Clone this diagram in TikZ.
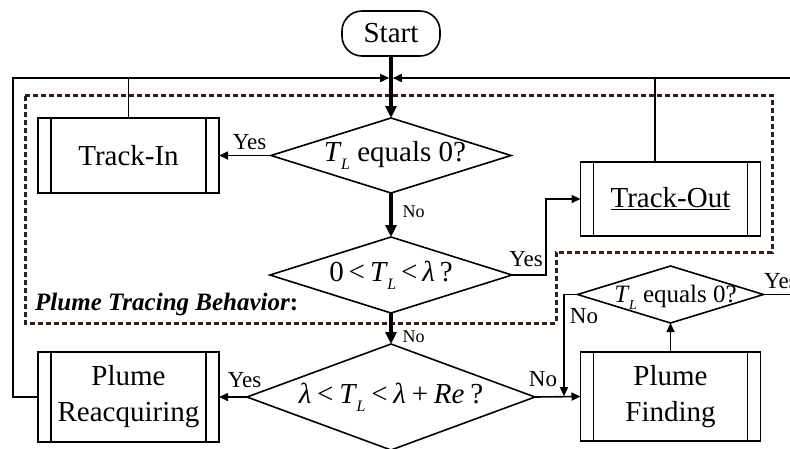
\documentclass[tikz,border=0pt]{standalone}
\usepackage{fontspec}
\setmainfont{Liberation Serif}
\usetikzlibrary{shapes.geometric,arrows.meta}
\definecolor{dotc}{RGB}{50,30,25}
\newcommand{\mainfs}{\fontsize{29}{36}\selectfont}
\newcommand{\TL}{\textit{T}\kern-0.02em\raisebox{-0.28em}{\scalebox{0.55}{\textit{L}}}}
\begin{document}
\begin{tikzpicture}[x=1pt,y=-1pt,font=\mainfs,
  dec/.style={diamond, draw, line width=1.6pt, inner sep=0pt, outer sep=0pt},
  subr/.style={rectangle, draw, line width=1.6pt, inner sep=0pt, outer sep=0pt, align=center,
    path picture={\draw[line width=1.6pt]
      ([xshift=13pt]path picture bounding box.north west) -- ([xshift=13pt]path picture bounding box.south west)
      ([xshift=-13pt]path picture bounding box.north east) -- ([xshift=-13pt]path picture bounding box.south east);}},
  term/.style={rectangle, rounded corners=20pt, draw, line width=1.6pt, inner sep=0pt, outer sep=0pt},
  arr/.style={line width=1.6pt, -{Triangle[length=9pt,width=8pt]}},
  thin/.style={line width=1.6pt},
  thk/.style={line width=3.5pt, -{Triangle[length=12pt,width=11pt]}},
  lab/.style={font=\fontsize{23}{26}\selectfont, inner sep=0pt, anchor=base},
  slab/.style={font=\fontsize{18}{20}\selectfont, inner sep=0pt, anchor=base},
  dotbox/.style={draw=dotc, line width=3pt, dash pattern=on 5pt off 3pt}
]
\clip (0,0) rectangle (790,448);

% dotted region
\draw[dotbox] (25,95) -- (772,95) -- (772,252) -- (556,252) -- (556,323) -- (25,323) -- cycle;
\node[anchor=base west, inner sep=0pt, font=\fontsize{25}{28}\selectfont\bfseries\itshape] (ptb) at (35,310) {Plume Tracing Behavior\upshape:};

% nodes
\node[term, minimum width=98pt, minimum height=45pt] (start) at (391,33.5) {Start};
\node[subr, minimum width=181pt, minimum height=75pt] (trackin) at (128.5,155.5) {Track-In};
\node[subr, minimum width=180pt, minimum height=74pt] (trackout) at (670.5,199) {\underline{Track-Out}};
\node[subr, minimum width=181pt, minimum height=90pt] (reacq) at (128.5,397) {Plume\\Reacquiring};
\node[subr, minimum width=180pt, minimum height=89pt] (finding) at (670.5,396.5) {Plume\\Finding};

\node[dec, minimum width=240pt, minimum height=75pt,
  label={[xshift=4pt]center:\TL\ equals 0?}] (d1) at (391,155.5) {};
\node[dec, minimum width=242pt, minimum height=76pt,
  label={center:0\hspace{0.17em}<\hspace{0.17em}\TL\hspace{0.17em}<\hspace{0.17em}\textit{λ}\hspace{0.17em}?}] (d2) at (391,275) {};
\node[dec, minimum width=288pt, minimum height=106pt,
  label={center:\textit{λ}\hspace{0.2em}<\hspace{0.2em}\TL\hspace{0.2em}<\hspace{0.2em}\textit{λ}\hspace{0.2em}+\hspace{0.2em}\textit{Re}\hspace{0.2em}?}] (d3) at (391,397) {};
\node[dec, minimum width=186pt, minimum height=57pt,
  label={[xshift=5pt,yshift=-3pt,font=\fontsize{25}{28}\selectfont]center:\TL\ equals 0?}] (d4) at (670.5,294.5) {};

% coordinates
\coordinate (jn) at (391,78);
\coordinate (rtop) at (790,78);
\coordinate (lx) at (13,0);
\coordinate (tox) at (655,0);
\coordinate (m) at (564,397);
\coordinate (rt) at (790,294.5);

% main flow
\draw[thk] (start.south) -- (d1.north);
\draw[thk] (d1.south) -- (d2.north);
\draw[thk] (d2.south) -- (d3.north);

% branches
\draw[arr] (d1.west) -- (trackin.east);
\draw[arr] (d2.east) -- ++(34,0) |- (trackout.west);
\draw[arr] (d3.west) -- (reacq.east);
\draw[arr] (d3.east) -- (finding.west);
\draw[arr] (finding.north) -- (d4.south);
\draw[arr, shorten >=0.8pt] (d4.west) -| (m);
\draw[thin] (d4.east) -- (rt);

% loops back to top
\draw[arr, shorten >=1.8pt] (reacq.west) -- (lx |- reacq.west) |- (jn);
\draw[arr, shorten >=1.8pt] (rtop) -- (jn);
\draw[thin] (trackin.north) -- (trackin.north |- jn);
\draw[thin] (tox |- trackout.north) -- (tox |- jn);

% labels
\node[lab] (y1) at (249.5,149) {Yes};
\node[slab] (n1) at (413.5,217) {No};
\node[lab] (y2) at (526,266) {Yes};
\node[slab] (n2) at (413.5,342) {No};
\node[lab] (y3) at (244.5,387) {Yes};
\node[lab] (n3) at (543,386) {No};
\node[lab] (n4) at (584,323) {No};
\node[lab, anchor=base west] (y4) at (764,288) {Yes};
\end{tikzpicture}
\end{document}
